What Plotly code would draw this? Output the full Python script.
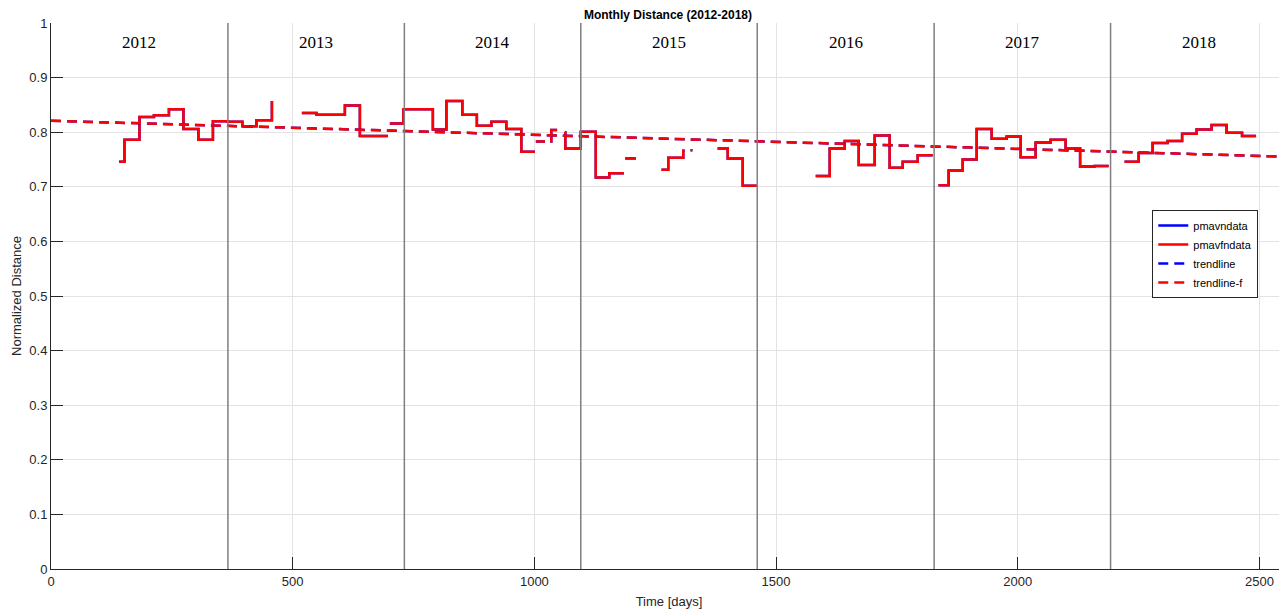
import plotly.graph_objects as go

# monthly stair data (day since 2012-01-01, normalized distance); None = gap
days = [141, 152, 183, 213, 244, 274, 305, 335, 366, 396, 425, 457, 458,
        519, 549, 608, 639, 697, 698,
        701, 729, 790, 818, 851, 881, 911, 942, 973, 1001, 1002,
        1003, 1022, 1023,
        1033, 1035, 1047, 1048,
        1063, 1064, 1096, 1127, 1155, 1185, 1186,
        1188, 1210, 1211,
        1263, 1277, 1308, 1311, 1312,
        1323, 1327, 1328,
        1379, 1400, 1431, 1460, 1461,
        1582, 1611, 1642, 1671, 1704, 1735, 1762, 1793, 1824, 1825,
        1836, 1857, 1886, 1915, 1946, 1977, 2006, 2037, 2068, 2099, 2129, 2159, 2188, 2189,
        2221, 2250, 2279, 2310, 2340, 2370, 2401, 2432, 2464, 2493]
pmavfndata = [0.746, 0.786, 0.828, 0.831, 0.842, 0.806, 0.786, 0.820, 0.819, 0.811, 0.822, 0.857, None,
              0.835, 0.832, 0.849, 0.793, 0.793, None,
              0.816, 0.842, 0.805, 0.857, 0.832, 0.812, 0.819, 0.806, 0.764, 0.764, None,
              0.783, 0.783, None,
              0.783, 0.804, 0.804, None,
              0.800, 0.770, 0.801, 0.717, 0.725, 0.725, None,
              0.752, 0.752, None,
              0.731, 0.753, 0.766, 0.766, None,
              0.767, 0.767, None,
              0.770, 0.752, 0.702, 0.702, None,
              0.720, 0.770, 0.784, 0.740, 0.794, 0.735, 0.746, 0.758, 0.758, None,
              0.703, 0.730, 0.750, 0.806, 0.788, 0.792, 0.754, 0.781, 0.786, 0.770, 0.737, 0.738, 0.738, None,
              0.746, 0.762, 0.780, 0.784, 0.797, 0.805, 0.813, 0.799, 0.793, 0.793]
pmavndata = list(pmavfndata)

trend_x = [0, 2557]
trend_y = [0.821, 0.755]
trend_f_y = [0.821, 0.755]

year_edges = [0, 366, 731, 1096, 1461, 1827, 2192, 2557]
year_labels = ["2012", "2013", "2014", "2015", "2016", "2017", "2018"]

fig = go.Figure()
fig.add_trace(go.Scatter(x=days, y=pmavndata, mode="lines", name="pmavndata",
                         line=dict(color="#0000ff", width=2.5, shape="hv")))
fig.add_trace(go.Scatter(x=days, y=pmavfndata, mode="lines", name="pmavfndata",
                         line=dict(color="#ff0000", width=2.5, shape="hv")))
fig.add_trace(go.Scatter(x=trend_x, y=trend_y, mode="lines", name="trendline",
                         line=dict(color="#0000ff", width=2.5, dash="10px,6px")))
fig.add_trace(go.Scatter(x=trend_x, y=trend_f_y, mode="lines", name="trendline-f",
                         line=dict(color="#ff0000", width=2.5, dash="10px,6px")))

# year separators and labels
for edge in year_edges[1:-1]:
    fig.add_vline(x=edge, line=dict(color="#7f7f7f", width=1.5), layer="above")
for i, label in enumerate(year_labels):
    fig.add_annotation(x=(year_edges[i] + year_edges[i + 1]) / 2, y=0.965, text=label,
                       showarrow=False, font=dict(family="Liberation Serif", size=17, color="black"))

axis_style = dict(showgrid=True, gridcolor="#e3e3e3", gridwidth=1, zeroline=False,
                  showline=True, linecolor="#262626", linewidth=1, automargin=False,
                  ticks="inside", ticklen=12, tickcolor="#262626",
                  tickfont=dict(family="Liberation Sans", size=13, color="#262626"))

# page body has an 8px margin, so the figure is sized to fit the window after it
fig.update_layout(
    width=1279, height=605,
    margin=dict(l=43, r=0, t=15, b=44),
    plot_bgcolor="white", paper_bgcolor="white",
    font=dict(family="Liberation Sans", color="#262626"),
    title=dict(text="<b>Monthly Distance (2012-2018)</b>", x=0.516, xanchor="center",
               y=0.9884, yanchor="middle", font=dict(size=12, color="black")),
    xaxis=dict(range=[0, 2557], dtick=500, tick0=0,
               title=dict(text="Time [days]", font=dict(size=13), standoff=9), **axis_style),
    yaxis=dict(range=[0, 1], dtick=0.1, tick0=0,
               title=dict(text="Normalized Distance", font=dict(size=13), standoff=4), **axis_style),
    legend=dict(x=0.891, y=0.6575, xanchor="left", yanchor="top",
                bgcolor="white", bordercolor="#262626", borderwidth=1,
                font=dict(family="Liberation Sans", size=11, color="black"),
                tracegroupgap=0, itemwidth=30),
    showlegend=True,
)

fig.write_html("out.html")
